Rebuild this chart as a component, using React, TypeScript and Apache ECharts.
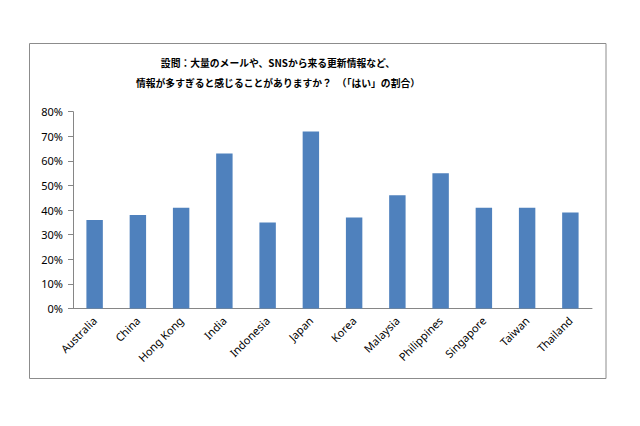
import React, { useRef, useEffect } from 'react'
import * as echarts from 'echarts'

const countries = [
  'Australia',
  'China',
  'Hong Kong',
  'India',
  'Indonesia',
  'Japan',
  'Korea',
  'Malaysia',
  'Philippines',
  'Singapore',
  'Taiwan',
  'Thailand',
]
const yesShare = [36, 38, 41, 63, 35, 72, 37, 46, 55, 41, 41, 39]
const titleLines = [
  '設問：大量のメールや、SNSから来る更新情報など、',
  '情報が多すぎると感じることがありますか？　（「はい」の割合）',
]

const axisGray = '#868686'

export default function App() {
  const containerRef = useRef<HTMLDivElement>(null)

  useEffect(() => {
    if (!containerRef.current) return
    const chart = echarts.init(containerRef.current, null, { renderer: 'svg' })

    chart.setOption({
      animation: false,
      backgroundColor: '#fff',
      textStyle: { fontFamily: '"Noto Sans", sans-serif' },
      title: {
        text: titleLines.join('\n'),
        left: 278,
        top: 53,
        padding: 0,
        textAlign: 'center',
        textStyle: {
          fontFamily: '"Noto Sans CJK JP", sans-serif',
          fontSize: 9.8,
          fontWeight: 'bold',
          color: '#000',
          lineHeight: 20,
        },
      },
      graphic: [
        {
          type: 'rect',
          shape: { x: 29.5, y: 43.5, width: 576.5, height: 335 },
          style: { fill: 'none', stroke: '#8c8c8c', lineWidth: 1 },
          silent: true,
        },
      ],
      grid: { left: 73, right: 48, top: 111.7, bottom: 117.5 },
      xAxis: {
        type: 'category',
        data: countries,
        axisLine: { lineStyle: { color: axisGray } },
        axisTick: { length: 5, lineStyle: { color: axisGray } },
        axisLabel: {
          rotate: 45,
          margin: 10,
          color: '#000',
          fontSize: 11,
          interval: 0,
        },
      },
      yAxis: {
        type: 'value',
        min: 0,
        max: 80,
        interval: 10,
        axisLine: { show: true, lineStyle: { color: axisGray } },
        axisTick: { show: true, length: 5, lineStyle: { color: axisGray } },
        splitLine: { show: false },
        axisLabel: {
          color: '#000',
          fontSize: 11,
          margin: 10,
          formatter: (v: number) => `${v}%`,
        },
      },
      series: [
        {
          type: 'bar',
          data: yesShare,
          barWidth: '38%',
          itemStyle: { color: '#4F81BD' },
        },
      ],
    })

    return () => {
      chart.dispose()
    }
  }, [])

  return (
    <div
      ref={containerRef}
      style={{ position: 'fixed', left: 0, top: 0, width: 640, height: 426 }}
    />
  )
}
